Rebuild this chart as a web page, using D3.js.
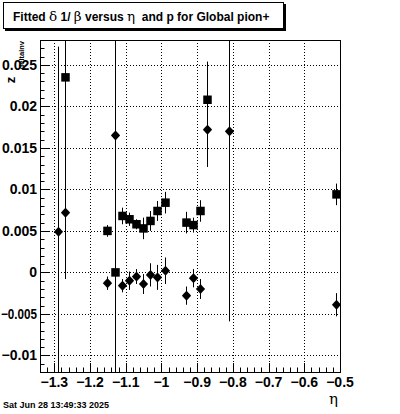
<!DOCTYPE html>
<html>
<head>
<meta charset="utf-8">
<script src="https://cdn.jsdelivr.net/npm/d3@7"></script>
<style>
  body { margin: 0; background: #fff; }
  svg { display: block; font-family: "Liberation Sans", Arial, sans-serif; }
  text { white-space: pre; }
</style>
</head>
<body>
<div id="chart-container"></div>
<script>
// Data: eta bin centres, fitted value and error
var etaSquares = [-1.2695, -1.1518, -1.1294, -1.1098, -1.0902, -1.0706, -1.0510, -1.0314, -1.0118, -0.9894, -0.9303, -0.9107, -0.8910, -0.8714, -0.5112]
var valSquares = [0.0235, 0.0050, 0.0000, 0.0068, 0.0064, 0.0058, 0.0053, 0.0062, 0.0074, 0.0084, 0.0060, 0.0057, 0.0074, 0.0208, 0.0094]
var errSquares = [0.0200, 0.0007, 0.0006, 0.0010, 0.0008, 0.0006, 0.0013, 0.0012, 0.0012, 0.0013, 0.0013, 0.0009, 0.0013, 0.0046, 0.0013]

var etaDiamonds = [-1.2910, -1.2695, -1.1518, -1.1294, -1.1098, -1.0902, -1.0706, -1.0510, -1.0314, -1.0118, -0.9894, -0.9303, -0.9107, -0.8910, -0.8714, -0.8101, -0.5112]
var valDiamonds = [0.0049, 0.0072, -0.0013, 0.0165, -0.0016, -0.0010, -0.0005, -0.0014, -0.0003, -0.0006, 0.0002, -0.0028, -0.0007, -0.0020, 0.0172, 0.0170, -0.0039]
var errDiamonds = [0.0223, 0.0080, 0.0008, 0.0320, 0.0008, 0.0011, 0.0009, 0.0012, 0.0014, 0.0015, 0.0016, 0.0011, 0.0011, 0.0012, 0.0045, 0.0229, 0.0014]

var xTicks = [-1.3, -1.2, -1.1, -1, -0.9, -0.8, -0.7, -0.6, -0.5]
var yTicks = [-0.01, -0.005, 0, 0.005, 0.01, 0.015, 0.02, 0.025]

var titleText = 'Fitted \u03b4 1/ \u03b2 versus \u03b7  and p for Global pion+'
var dateText = 'Sat Jun 28 13:49:33 2025'

var WIDTH = 400
var HEIGHT = 414
var frame = {left: 40, right: 340, top: 40, bottom: 372}

var svg = d3.select('#chart-container')
  .append('svg')
  .attr('width', WIDTH)
  .attr('height', HEIGHT)

svg.append('rect').attr('width', WIDTH).attr('height', HEIGHT).attr('fill', '#fff')

var xScale = d3.scaleLinear().domain([-1.34, -0.5]).range([frame.left, frame.right])
var yScale = d3.scaleLinear().domain([-0.012, 0.028]).range([frame.bottom, frame.top])

function fmt(v) {
  var s = d3.format('')(+v.toFixed(3))
  return s.replace('-', '\u2212')
}

// grid
var grid = svg.append('g').attr('stroke', '#000').attr('stroke-width', 1).attr('stroke-dasharray', '1,2')
grid.selectAll('.gx').data(xTicks).enter().append('line')
  .attr('x1', d => Math.round(xScale(d)) + 0.5).attr('x2', d => Math.round(xScale(d)) + 0.5)
  .attr('y1', frame.top).attr('y2', frame.bottom)
grid.selectAll('.gy').data(yTicks).enter().append('line')
  .attr('x1', frame.left).attr('x2', frame.right)
  .attr('y1', d => Math.round(yScale(d)) + 0.5).attr('y2', d => Math.round(yScale(d)) + 0.5)

// frame
svg.append('rect')
  .attr('x', frame.left + 0.5).attr('y', frame.top + 0.5)
  .attr('width', frame.right - frame.left).attr('height', frame.bottom - frame.top)
  .attr('fill', 'none').attr('stroke', '#000')

// ticks: long at labelled values, short at the subdivisions
var ticks = svg.append('g').attr('stroke', '#000')
var xMinor = d3.range(-1.34, -0.4999, 0.02)
ticks.selectAll('.tx').data(xMinor).enter().append('line')
  .attr('x1', d => Math.round(xScale(d)) + 0.5).attr('x2', d => Math.round(xScale(d)) + 0.5)
  .attr('y1', frame.bottom)
  .attr('y2', d => Math.abs(d * 10 - Math.round(d * 10)) < 1e-6 ? frame.bottom - 9 : frame.bottom - 4.5)
var yMinor = d3.range(-0.012, 0.02801, 0.001)
ticks.selectAll('.ty').data(yMinor).enter().append('line')
  .attr('y1', d => Math.round(yScale(d)) + 0.5).attr('y2', d => Math.round(yScale(d)) + 0.5)
  .attr('x1', frame.left)
  .attr('x2', d => Math.abs(d * 200 - Math.round(d * 200)) < 1e-6 ? frame.left + 9 : frame.left + 4.5)

// tick labels
svg.append('g').selectAll('text').data(xTicks).enter().append('text')
  .attr('x', d => xScale(d)).attr('y', 387)
  .attr('text-anchor', 'middle').attr('font-size', 14).attr('font-weight', 'bold')
  .text(d => fmt(d))
svg.append('g').selectAll('text').data(yTicks).enter().append('text')
  .attr('x', 37).attr('y', d => yScale(d) + 5)
  .attr('text-anchor', 'end').attr('font-size', 14).attr('font-weight', 'bold')
  .text(d => fmt(d))
  .each(function() {
    // keep the widest label inside the page
    if (this.getComputedTextLength() > 36) {
      d3.select(this).attr('textLength', 36).attr('lengthAdjust', 'spacingAndGlyphs')
    }
  })

// error bars, clipped to the frame
svg.append('clipPath').attr('id', 'clip').append('rect')
  .attr('x', frame.left).attr('y', frame.top)
  .attr('width', frame.right - frame.left).attr('height', frame.bottom - frame.top)
var plot = svg.append('g').attr('clip-path', 'url(#clip)')

function drawErrors(etas, vals, errs) {
  plot.append('g').selectAll('line').data(etas).enter().append('line')
    .attr('x1', d => Math.round(xScale(d)) + 0.5).attr('x2', d => Math.round(xScale(d)) + 0.5)
    .attr('y1', (d, i) => yScale(vals[i] + errs[i]))
    .attr('y2', (d, i) => yScale(vals[i] - errs[i]))
    .attr('stroke', '#000').attr('stroke-width', 1)
}
drawErrors(etaSquares, valSquares, errSquares)
drawErrors(etaDiamonds, valDiamonds, errDiamonds)

// markers
plot.append('g').selectAll('rect').data(etaSquares).enter().append('rect')
  .attr('x', d => Math.round(xScale(d)) + 0.5 - 4.25)
  .attr('y', (d, i) => yScale(valSquares[i]) - 4.25)
  .attr('width', 8.5).attr('height', 8.5).attr('fill', '#000')

var diamond = 'M0,-5L3.2,-1.6L4.6,0L3.2,1.6L0,5L-3.2,1.6L-4.6,0L-3.2,-1.6Z'
plot.append('g').selectAll('path').data(etaDiamonds).enter().append('path')
  .attr('d', diamond)
  .attr('transform', (d, i) => 'translate(' + (Math.round(xScale(d)) + 0.5) + ',' + yScale(valDiamonds[i]) + ')')
  .attr('fill', '#000')

// title box with shadow
svg.append('rect').attr('x', 5).attr('y', 4).attr('width', 281).attr('height', 27).attr('fill', '#000')
svg.append('rect').attr('x', 3.5).attr('y', 2.5).attr('width', 280).attr('height', 26)
  .attr('fill', '#fff').attr('stroke', '#000')
var title = svg.append('text').attr('x', 13).attr('y', 21).attr('font-size', 12).attr('font-weight', 'bold')
titleText.split(/([\u03b4\u03b2\u03b7])/).forEach(function(part) {
  var greek = /[\u03b4\u03b2\u03b7]/.test(part)
  title.append('tspan')
    .attr('font-family', greek ? '"DejaVu Serif", serif' : null)
    .attr('font-weight', greek ? 'normal' : null)
    .attr('font-size', greek ? 13.5 : null)
    .text(part)
})

// axis titles
svg.append('text')
  .attr('transform', 'translate(15,80) rotate(-90)')
  .attr('text-anchor', 'middle').attr('font-size', 13).attr('font-weight', 'bold')
  .text('z')
svg.append('text')
  .attr('transform', 'translate(24,41) rotate(-90)')
  .attr('text-anchor', 'end').attr('font-size', 7.5).attr('font-weight', 'bold')
  .text('deltainv')
svg.append('text')
  .attr('x', 338).attr('y', 404)
  .attr('text-anchor', 'end').attr('font-size', 15)
  .attr('font-family', '"DejaVu Serif", serif')
  .text('\u03b7')

// date stamp
svg.append('text').attr('x', 3).attr('y', 408)
  .attr('font-size', 9).attr('font-weight', 'bold')
  .text(dateText)
</script>
</body>
</html>
